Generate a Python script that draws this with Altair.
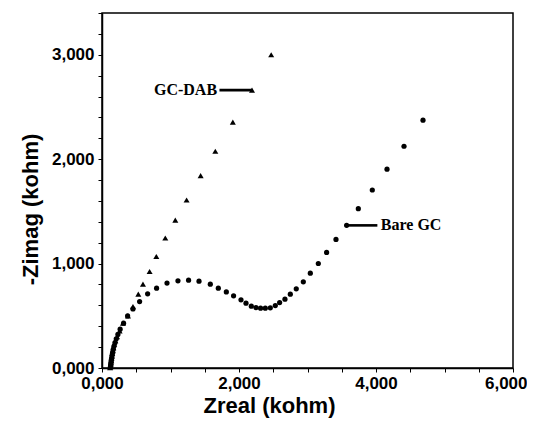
import altair as alt
import pandas as pd

# GC-DAB (triangles), kohm
dab_x = [2.470, 2.190, 1.910, 1.654, 1.440, 1.235, 1.070, 0.924, 0.793, 0.695, 0.598, 0.530,
         0.452, 0.379, 0.306, 0.257, 0.219, 0.195, 0.178, 0.166, 0.157, 0.150, 0.144, 0.139,
         0.135, 0.131, 0.127, 0.124, 0.121, 0.119]
dab_y = [3.000, 2.661, 2.354, 2.076, 1.843, 1.609, 1.417, 1.245, 1.068, 0.924, 0.803, 0.707,
         0.588, 0.499, 0.429, 0.355, 0.300, 0.262, 0.228, 0.196, 0.166, 0.139, 0.114, 0.091,
         0.070, 0.052, 0.036, 0.022, 0.011, 0.003]

# Bare GC (circles), kohm
bare_x = [4.686, 4.409, 4.161, 3.946, 3.742, 3.571, 3.416, 3.279, 3.158, 3.041, 2.939, 2.836,
          2.749, 2.671, 2.593, 2.530, 2.457, 2.384, 2.315, 2.248, 2.180, 2.102, 2.029, 1.921,
          1.815, 1.698, 1.581, 1.416, 1.264, 1.109, 0.949, 0.797, 0.666, 0.549, 0.452, 0.374,
          0.315, 0.265, 0.232, 0.208, 0.190, 0.176, 0.165, 0.156, 0.149, 0.143, 0.138, 0.134,
          0.130, 0.127, 0.124]
bare_y = [2.374, 2.124, 1.904, 1.705, 1.526, 1.366, 1.231, 1.107, 1.001, 0.908, 0.825, 0.758,
          0.707, 0.659, 0.627, 0.598, 0.576, 0.573, 0.573, 0.579, 0.592, 0.621, 0.653, 0.691,
          0.729, 0.765, 0.803, 0.832, 0.841, 0.835, 0.813, 0.765, 0.710, 0.636, 0.566, 0.499,
          0.429, 0.372, 0.322, 0.280, 0.243, 0.210, 0.180, 0.152, 0.127, 0.104, 0.083, 0.064,
          0.045, 0.027, 0.010]

# annotation labels and leader lines (kohm)
ann_text = ["GC-DAB", "Bare GC"]
ann_tx = [1.680, 4.070]
ann_ty = [2.661, 1.366]
ann_x1 = [1.715, 3.571]
ann_x2 = [2.190, 4.020]
ann_align = ["right", "left"]

x_ticks = [i * 0.5 for i in range(13)]
y_ticks = [round(i * 0.2, 1) for i in range(18)]

dab = pd.DataFrame({"x": dab_x, "y": dab_y})
bare = pd.DataFrame({"x": bare_x, "y": bare_y})
ann = pd.DataFrame({"t": ann_text, "tx": ann_tx, "ty": ann_ty, "x1": ann_x1, "x2": ann_x2,
                    "al": ann_align})

major = "round(datum.value*1000) % {m} == 0"
lbl = major + " ? replace(format(datum.value, '.3f'), '.', ',') : ''"

xs = alt.Scale(domain=[0, 6], nice=False, zero=False)
ys = alt.Scale(domain=[0, 3.4], nice=False, zero=False)

xax = alt.Axis(values=x_ticks, labelExpr=lbl.format(m=2000), title="Zreal (kohm)",
               labelOverlap=False,
               labelAlign={"condition": {"test": "datum.value >= 6", "value": "right"}, "value": "center"},
               labelOffset={"condition": {"test": "datum.value >= 6", "value": 14}, "value": 0},
               titleX=167, titleY=44, titleAlign="center", titleBaseline="alphabetic")
yax = alt.Axis(values=y_ticks, labelExpr=lbl.format(m=1000), title="-Zimag (kohm)",
               labelOverlap=False,
               titleX=-72, titleY=196, titleAlign="center",
               titleBaseline="middle", titleAngle=-90)


def X(f):
    return alt.X(f, scale=xs, axis=xax)


def Y(f):
    return alt.Y(f, scale=ys, axis=yax)


tri = alt.Chart(dab).mark_point(shape="triangle-up", filled=True, color="black", size=36, opacity=1).encode(
    x=X("x:Q"), y=Y("y:Q"))
cir = alt.Chart(bare).mark_point(shape="circle", filled=True, color="black", size=27, opacity=1).encode(
    x=X("x:Q"), y=Y("y:Q"))
rules = alt.Chart(ann).mark_rule(color="black", strokeWidth=2.6).encode(
    x=X("x1:Q"), x2="x2:Q", y=Y("ty:Q"))
txt_r = alt.Chart(ann[ann.al == "right"]).mark_text(
    align="right", baseline="middle", font="Liberation Serif", fontWeight="bold", fontSize=16,
    color="black").encode(x=X("tx:Q"), y=Y("ty:Q"), text="t:N")
txt_l = alt.Chart(ann[ann.al == "left"]).mark_text(
    align="left", baseline="middle", font="Liberation Serif", fontWeight="bold", fontSize=16,
    color="black").encode(x=X("tx:Q"), y=Y("ty:Q"), text="t:N")

chart = alt.layer(tri, cir, rules, txt_r, txt_l).properties(
    width=411, height=355,
    autosize=alt.AutoSizeParams(type="none"),
    padding={"left": 94, "top": 5, "right": 14, "bottom": 50},
    background="white",
).configure_view(stroke="black", strokeWidth=1.5).configure_axis(
    grid=False, tickSize=4, tickColor="black", domainColor="black", domainWidth=1.5,
    labelFont="Liberation Sans", labelFontWeight="bold", labelFontSize=17,
    labelColor="black", labelFlush=False, labelBound=False, labelOverlap=False,
    titleFont="Liberation Sans", titleFontWeight="bold", titleFontSize=22, titleColor="black",
).configure_axisX(labelPadding=3).configure_axisY(labelPadding=4)

chart.save("out.html", embed_options={"renderer": "svg", "actions": False})
